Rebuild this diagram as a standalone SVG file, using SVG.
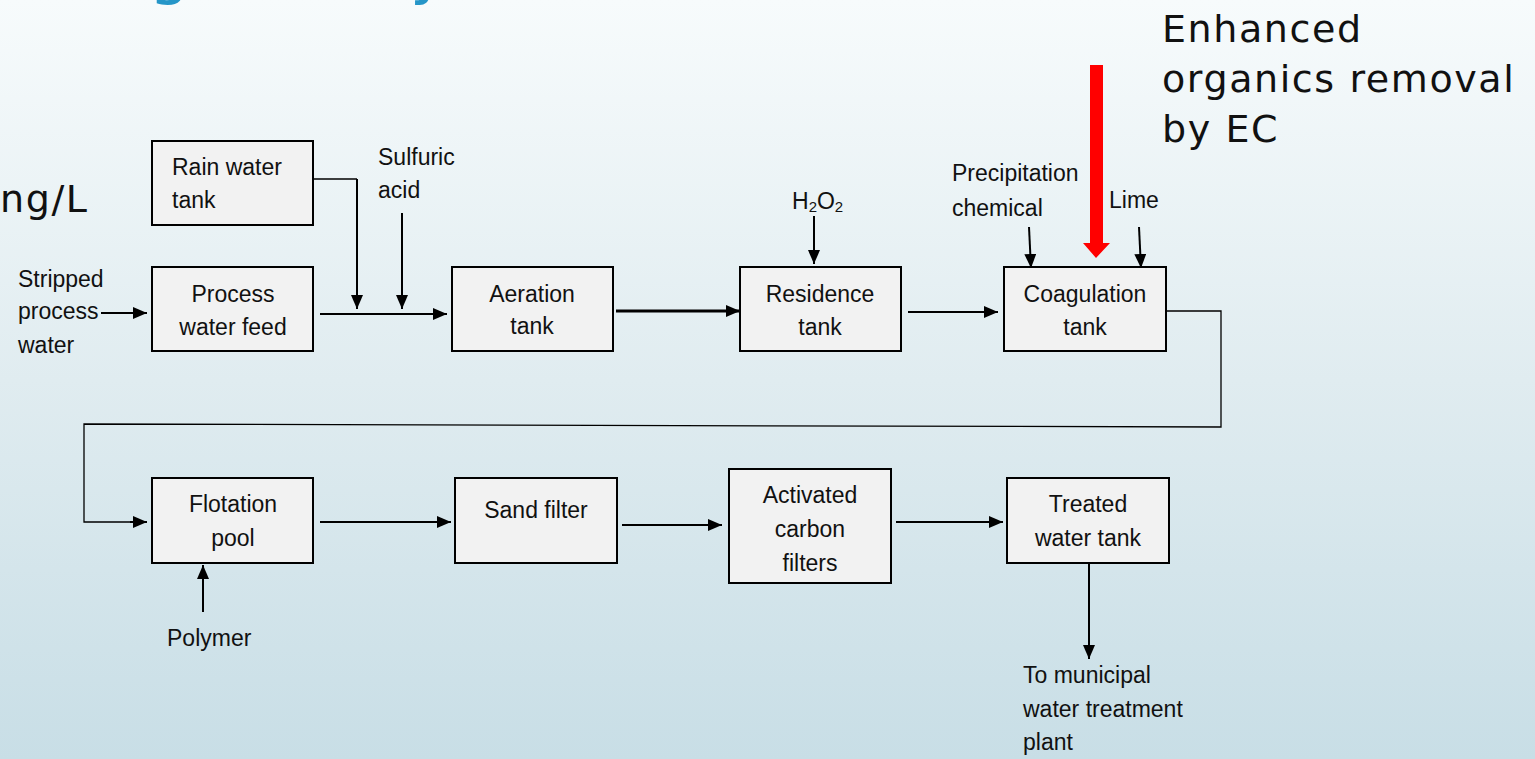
<svg xmlns="http://www.w3.org/2000/svg" width="1535" height="759" viewBox="0 0 1535 759">
<defs>
<linearGradient id="bg" x1="0" y1="0" x2="0" y2="1">
<stop offset="0" stop-color="#f7fbfc"/>
<stop offset="0.5" stop-color="#e0ecf0"/>
<stop offset="1" stop-color="#c8dee6"/>
</linearGradient>
<marker id="ah" markerUnits="userSpaceOnUse" markerWidth="14" markerHeight="12" refX="14" refY="6" orient="auto">
<path d="M0,0 L14,6 L0,12 z" fill="#000"/>
</marker>
<style>
.box{fill:#f2f2f2;stroke:#000;stroke-width:2}
.t{font-family:"Liberation Sans",Arial,sans-serif;font-size:23px;fill:#111}
.c{text-anchor:middle}
.big{font-family:"DejaVu Sans",sans-serif;font-size:38px;letter-spacing:1.6px;fill:#111}
.ttl{font-family:"DejaVu Sans",sans-serif;font-size:64px;fill:#2596c8}
.ln{fill:none;stroke:#000;stroke-width:2}
.thin{fill:none;stroke:#000;stroke-width:1.3}
.arr{marker-end:url(#ah)}
</style>
</defs>
<rect x="0" y="0" width="1535" height="759" fill="url(#bg)"/>

<text class="ttl" x="149" y="-8">g</text>
<text class="ttl" x="410" y="-8">y</text>
<text class="big" x="0" y="212">ng/L</text>

<g id="note">
<text class="big" x="1162" y="42">Enhanced</text>
<text class="big" x="1162" y="92">organics removal</text>
<text class="big" x="1162" y="142">by EC</text>
</g>

<g id="connectors">
<line class="ln arr" x1="101" y1="313" x2="147" y2="313"/>
<line class="ln arr" x1="320" y1="314" x2="447" y2="314"/>
<polyline class="thin" points="314,179 357,179"/>
<line class="ln arr" x1="357" y1="179" x2="357" y2="309"/>
<line class="ln arr" x1="402" y1="213" x2="402" y2="309"/>
<line class="ln arr" x1="616" y1="311" x2="740" y2="311" style="stroke-width:3"/>
<line class="ln arr" x1="814" y1="216" x2="814" y2="264"/>
<line class="ln arr" x1="908" y1="312" x2="998" y2="312"/>
<line class="ln arr" x1="1029" y1="227" x2="1031" y2="268"/>
<line class="ln arr" x1="1139" y1="227" x2="1141" y2="268"/>
<polygon points="1090,65 1103,65 1103,243 1110,243 1096,258 1083,243 1090,243" fill="#ff0000"/>
<polyline class="thin" points="1166,311 1221,311 1221,427 84,424 84,522 134,522"/>
<line class="ln arr" x1="130" y1="522" x2="147" y2="522"/>
<line class="ln arr" x1="320" y1="522" x2="451" y2="522"/>
<line class="ln arr" x1="622" y1="525" x2="722" y2="525"/>
<line class="ln arr" x1="896" y1="522" x2="1003" y2="522"/>
<line class="ln arr" x1="1089" y1="563" x2="1089" y2="659"/>
<line class="ln arr" x1="203" y1="612" x2="203" y2="565"/>
</g>

<g id="labels">
<text class="t" x="18" y="287">Stripped</text>
<text class="t" x="18" y="319">process</text>
<text class="t" x="18" y="353">water</text>
<text class="t" x="378" y="165">Sulfuric</text>
<text class="t" x="378" y="198">acid</text>
<text class="t" x="792" y="209">H<tspan font-size="15" dy="3">2</tspan><tspan dy="-3">O</tspan><tspan font-size="15" dy="3">2</tspan></text>
<text class="t" x="952" y="181">Precipitation</text>
<text class="t" x="952" y="216">chemical</text>
<text class="t" x="1109" y="208">Lime</text>
<text class="t" x="167" y="646">Polymer</text>
<text class="t" x="1023" y="683">To municipal</text>
<text class="t" x="1023" y="717">water treatment</text>
<text class="t" x="1023" y="750">plant</text>
</g>

<g id="rain">
<rect class="box" x="152" y="141" width="161" height="84"/>
<text class="t" x="172" y="175">Rain water</text>
<text class="t" x="172" y="208">tank</text>
</g>
<g id="feed">
<rect class="box" x="152" y="267" width="161" height="84"/>
<text class="t c" x="233" y="302">Process</text>
<text class="t c" x="233" y="335">water feed</text>
</g>
<g id="aeration">
<rect class="box" x="452" y="267" width="161" height="84"/>
<text class="t c" x="532" y="302">Aeration</text>
<text class="t c" x="532" y="334">tank</text>
</g>
<g id="residence">
<rect class="box" x="740" y="267" width="161" height="84"/>
<text class="t c" x="820" y="302">Residence</text>
<text class="t c" x="820" y="335">tank</text>
</g>
<g id="coagulation">
<rect class="box" x="1004" y="267" width="162" height="84"/>
<text class="t c" x="1085" y="302">Coagulation</text>
<text class="t c" x="1085" y="335">tank</text>
</g>
<g id="flotation">
<rect class="box" x="152" y="478" width="161" height="85"/>
<text class="t c" x="233" y="512">Flotation</text>
<text class="t c" x="233" y="546">pool</text>
</g>
<g id="sand">
<rect class="box" x="455" y="478" width="162" height="85"/>
<text class="t c" x="536" y="518">Sand filter</text>
</g>
<g id="carbon">
<rect class="box" x="729" y="469" width="162" height="114"/>
<text class="t c" x="810" y="503">Activated</text>
<text class="t c" x="810" y="537">carbon</text>
<text class="t c" x="810" y="571">filters</text>
</g>
<g id="treated">
<rect class="box" x="1007" y="478" width="162" height="85"/>
<text class="t c" x="1088" y="512">Treated</text>
<text class="t c" x="1088" y="546">water tank</text>
</g>
</svg>
